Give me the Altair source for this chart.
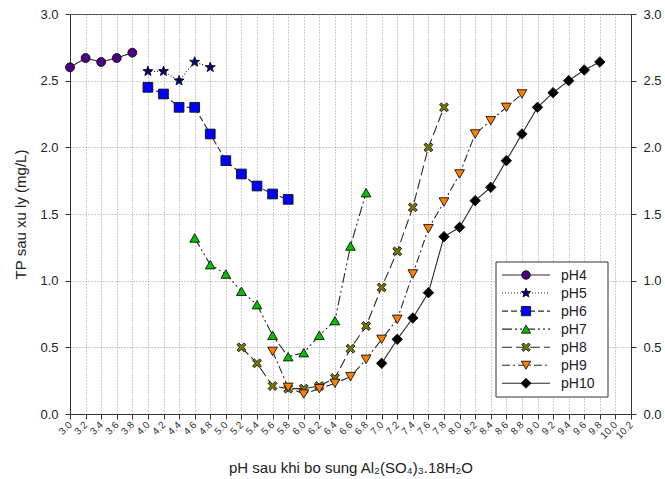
import math
import altair as alt
import pandas as pd

# ---- data ----
ph4_x = [3.0, 3.2, 3.4, 3.6, 3.8]
ph4_y = [2.60, 2.67, 2.64, 2.67, 2.71]
ph5_x = [4.0, 4.2, 4.4, 4.6, 4.8]
ph5_y = [2.57, 2.57, 2.50, 2.64, 2.60]
ph6_x = [4.0, 4.2, 4.4, 4.6, 4.8, 5.0, 5.2, 5.4, 5.6, 5.8]
ph6_y = [2.45, 2.40, 2.30, 2.30, 2.10, 1.90, 1.80, 1.71, 1.65, 1.61]
ph7_x = [4.6, 4.8, 5.0, 5.2, 5.4, 5.6, 5.8, 6.0, 6.2, 6.4, 6.6, 6.8]
ph7_y = [1.32, 1.12, 1.05, 0.92, 0.82, 0.59, 0.43, 0.46, 0.59, 0.70, 1.26, 1.66]
ph8_x = [5.2, 5.4, 5.6, 5.8, 6.0, 6.2, 6.4, 6.6, 6.8, 7.0, 7.2, 7.4, 7.6, 7.8]
ph8_y = [0.50, 0.38, 0.21, 0.19, 0.19, 0.21, 0.27, 0.49, 0.66, 0.95, 1.22, 1.55, 2.00, 2.30]
ph9_x = [5.6, 5.8, 6.0, 6.2, 6.4, 6.6, 6.8, 7.0, 7.2, 7.4, 7.6, 7.8, 8.0, 8.2, 8.4, 8.6, 8.8]
ph9_y = [0.47, 0.20, 0.15, 0.19, 0.23, 0.28, 0.41, 0.56, 0.71, 1.05, 1.39, 1.59, 1.80, 2.10, 2.20, 2.30, 2.40]
ph10_x = [7.0, 7.2, 7.4, 7.6, 7.8, 8.0, 8.2, 8.4, 8.6, 8.8, 9.0, 9.2, 9.4, 9.6, 9.8]
ph10_y = [0.38, 0.56, 0.72, 0.91, 1.33, 1.40, 1.60, 1.70, 1.90, 2.10, 2.30, 2.41, 2.50, 2.58, 2.64]

series_names = ["pH4", "pH5", "pH6", "pH7", "pH8", "pH9", "pH10"]
series_x = [ph4_x, ph5_x, ph6_x, ph7_x, ph8_x, ph9_x, ph10_x]
series_y = [ph4_y, ph5_y, ph6_y, ph7_y, ph8_y, ph9_y, ph10_y]

x_ticks = [round(3.0 + 0.2 * i, 1) for i in range(37)]
y_ticks = [0.0, 0.5, 1.0, 1.5, 2.0, 2.5, 3.0]

x_title = "pH sau khi bo sung Al\u2082(SO\u2084)\u2083.18H\u2082O"
y_title = "TP sau xu ly (mg/L)"

# ---- marker shapes (normalised to [-1, 1]) ----
pts = []
for k in range(10):
    r = 1.0 if k % 2 == 0 else 0.42
    a = -math.pi / 2 + k * math.pi / 5
    pts.append((r * math.cos(a), r * math.sin(a)))
STAR = "M" + " L".join(f"{px:.3f},{py:.3f}" for px, py in pts) + " Z"

w = 0.26
plus = [(-w, -1), (w, -1), (w, -w), (1, -w), (1, w), (w, w), (w, 1), (-w, 1),
        (-w, w), (-1, w), (-1, -w), (-w, -w)]
c45 = math.cos(math.pi / 4)
xpts = [((px - py) * c45, (px + py) * c45) for px, py in plus]
XMARK = "M" + " L".join(f"{px:.3f},{py:.3f}" for px, py in xpts) + " Z"

styles = {
    "pH4": dict(shape="circle", fill="#4b0082", size=80, dash=[1, 0]),
    "pH5": dict(shape=STAR, fill="#000080", size=110, dash=[1, 2]),
    "pH6": dict(shape="square", fill="#0000ff", size=95, dash=[6, 3]),
    "pH7": dict(shape="triangle-up", fill="#00c000", size=95, dash=[10, 3, 2, 3, 2, 3]),
    "pH8": dict(shape=XMARK, fill="#7a7a00", size=100, dash=[10, 4]),
    "pH9": dict(shape="triangle-down", fill="#ff8000", size=95, dash=[8, 3, 2, 3]),
    "pH10": dict(shape="diamond", fill="#000000", size=110, dash=[1, 0]),
}

LINE = "#2a2a2a"
FONT = "Liberation Sans"

xscale = alt.Scale(domain=[3.0, 10.2], nice=False, zero=False)
yscale = alt.Scale(domain=[0, 3.0], nice=False)

x_axis = alt.Axis(
    values=x_ticks, format=".1f", labelAngle=315, labelAlign="right",
    labelBaseline="middle", labelFontSize=10, labelPadding=4, tickSize=5,
    grid=True, gridColor="#9a9a9a", gridDash=[1, 2], gridWidth=1,
    title=x_title, titleFontSize=15, titleFontWeight="normal",
    titleY=58, titleBaseline="alphabetic", labelOverlap=False,
    domainColor="#333", tickColor="#333", labelColor="#333", titleColor="#222",
)
left_axis = alt.Axis(
    values=y_ticks, format=".1f", orient="left", labelFontSize=13,
    labelPadding=7, tickSize=5, grid=True, gridColor="#9a9a9a",
    gridDash=[1, 2], gridWidth=1, title=y_title, titleFontSize=15,
    titleFontWeight="normal", titleX=-50, titleY=200, titleAngle=270,
    titleAlign="center", titleBaseline="middle",
    domainColor="#333", tickColor="#333", labelColor="#222", titleColor="#222",
)
right_axis = alt.Axis(
    values=y_ticks, format=".1f", orient="right", labelFontSize=13,
    labelPadding=7, tickSize=5, grid=False, title=None,
    domainColor="#333", tickColor="#333", labelColor="#222",
)

xenc = alt.X("pH:Q", scale=xscale, axis=x_axis)

layers = []
for i, name in enumerate(series_names):
    df = pd.DataFrame({"pH": series_x[i], "TP": series_y[i], "series": name})
    st = styles[name]
    yax = left_axis if i == 0 else None
    line = alt.Chart(df).mark_line(
        stroke=LINE, strokeWidth=1.1, strokeDash=st["dash"]
    ).encode(x=xenc, y=alt.Y("TP:Q", scale=yscale, axis=yax))
    layers.append(line)

for i, name in enumerate(series_names):
    df = pd.DataFrame({"pH": series_x[i], "TP": series_y[i], "series": name})
    st = styles[name]
    kw = dict(filled=True, shape=st["shape"], fill=st["fill"], stroke="#111",
              strokeWidth=0.9, size=st["size"], opacity=1)
    yax = right_axis if i == 0 else None
    pt = alt.Chart(df).mark_point(**kw).encode(
        x=xenc, y=alt.Y("TP:Q", scale=yscale, axis=yax))
    layers.append(pt)

# ---- legend (drawn in pixel space inside the plot) ----
box_df = pd.DataFrame({"k": [0]})
layers.append(
    alt.Chart(box_df).mark_rect(fill="white", stroke="#333", strokeWidth=1).encode(
        x=alt.value(426), x2=alt.value(538), y=alt.value(248), y2=alt.value(383))
)
for i, name in enumerate(series_names):
    st = styles[name]
    ly = 261 + i * 18.05
    ldf = pd.DataFrame({"series": [name]})
    layers.append(
        alt.Chart(ldf).mark_rule(stroke=LINE, strokeWidth=1.1, strokeDash=st["dash"]).encode(
            x=alt.value(432), x2=alt.value(480), y=alt.value(ly))
    )
    kw = dict(filled=True, shape=st["shape"], fill=st["fill"], stroke="#111",
              strokeWidth=0.9, size=st["size"] * 0.9, opacity=1)
    layers.append(
        alt.Chart(ldf).mark_point(**kw).encode(x=alt.value(456), y=alt.value(ly))
    )
    layers.append(
        alt.Chart(ldf).mark_text(align="left", baseline="middle", fontSize=14,
                                 font=FONT, color="#222").encode(
            x=alt.value(491), y=alt.value(ly + 0.5), text="series:N")
    )

chart = alt.layer(*layers).resolve_axis(y="independent").properties(
    width=561, height=400,
    autosize=alt.AutoSizeParams(type="none"),
    padding={"left": 70, "top": 14, "right": 34, "bottom": 65},
).configure(font=FONT).configure_view(stroke="#333", strokeWidth=1).configure_axis(
    labelFont=FONT, titleFont=FONT
)

chart.save("out.html", embed_options={"renderer": "svg", "actions": False})
